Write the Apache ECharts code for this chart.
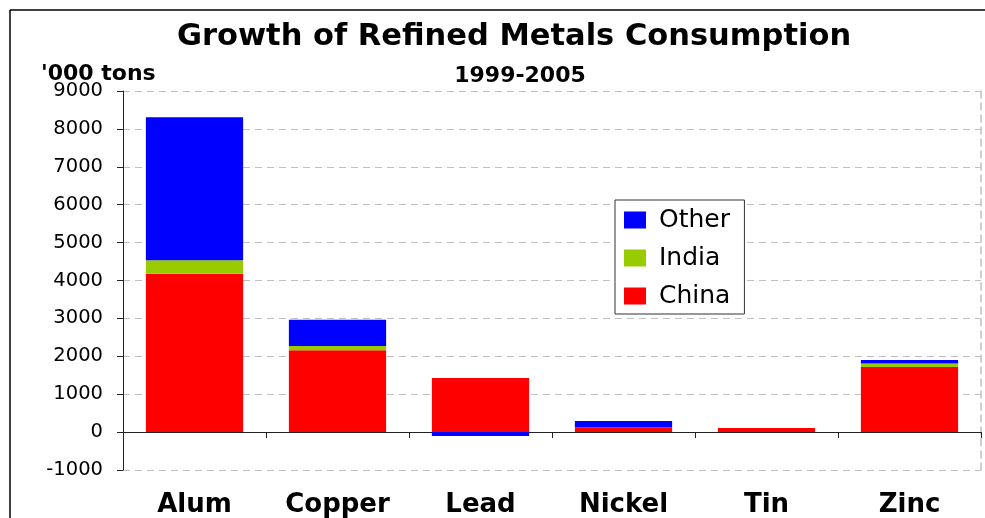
<!DOCTYPE html>
<html>
<head>
<meta charset="utf-8">
<title>Growth of Refined Metals Consumption</title>
<script src="https://cdn.jsdelivr.net/npm/echarts@6/dist/echarts.min.js"></script>
<style>
  html, body { margin: 0; padding: 0; background: #fff; }
  #chart { width: 985px; height: 518px; }
</style>
</head>
<body>
<div id="chart"></div>
<script>
// Metals on the category axis
const categories = ['Alum', 'Copper', 'Lead', 'Nickel', 'Tin', 'Zinc'];
// Consumption growth 1999-2005, '000 tons
const china = [4180, 2160, 1430, 125, 105, 1720];
const india = [355, 115, 0, 0, 0, 90];
const other = [3775, 690, -100, 165, 0, 90];
// Legend order, top to bottom
const legendOrder = ['Other', 'India', 'China'];

const FONT = 'DejaVu Sans';
const GRID_COLOR = '#c0c0c0';

const chart = echarts.init(document.getElementById('chart'), null, { renderer: 'canvas' });

chart.setOption({
  animation: false,
  backgroundColor: '#fff',
  textStyle: { fontFamily: FONT },
  title: [
    {
      text: 'Growth of Refined Metals Consumption',
      left: 509, top: 17, textAlign: 'center',
      textStyle: { fontFamily: FONT, fontWeight: 'bold', fontSize: 30.5, color: '#000' }
    },
    {
      text: "'000 tons",
      left: 36, top: 58,
      textStyle: { fontFamily: FONT, fontWeight: 'bold', fontSize: 22, color: '#000' }
    },
    {
      text: '1999-2005',
      left: 515, top: 60, textAlign: 'center',
      textStyle: { fontFamily: FONT, fontWeight: 'bold', fontSize: 22, color: '#000' }
    }
  ],
  graphic: [
    { type: 'line', shape: { x1: 10, y1: 10, x2: 985, y2: 10 }, style: { stroke: '#000', lineWidth: 1.5 } },
    { type: 'line', shape: { x1: 10, y1: 10, x2: 10, y2: 518 }, style: { stroke: '#000', lineWidth: 1.5 } }
  ],
  legend: {
    data: legendOrder,
    orient: 'vertical',
    left: 615, top: 200,
    backgroundColor: '#fff',
    borderColor: '#333',
    borderWidth: 1,
    padding: [7, 14, 5, 9],
    itemWidth: 22,
    itemHeight: 17,
    itemGap: 12,
    icon: 'rect',
    textStyle: { fontFamily: FONT, fontSize: 25, lineHeight: 26, color: '#000', padding: [0, 0, 0, 8] }
  },
  grid: { left: 123, right: 4, top: 91, bottom: 48, containLabel: false, outerBoundsMode: 'none' },
  xAxis: {
    type: 'category',
    data: categories,
    axisLine: { onZero: true, lineStyle: { color: '#222', width: 1 } },
    axisTick: { show: true, length: 6, lineStyle: { color: '#222' } },
    axisLabel: { margin: 22, fontFamily: FONT, fontWeight: 'bold', fontSize: 26, color: '#000' },
    splitLine: { show: false }
  },
  yAxis: [
    {
      type: 'value',
      min: -1000, max: 9000, interval: 1000,
      axisLine: { show: true, lineStyle: { color: '#222', width: 1 } },
      axisTick: { show: true, length: 6, lineStyle: { color: '#222' } },
      axisLabel: {
        margin: 20, fontFamily: FONT, fontSize: 19.5, color: '#000',
        formatter: (v) => String(v)
      },
      splitLine: { show: true, lineStyle: { color: GRID_COLOR, type: [7, 5], width: 1 } }
    },
    {
      type: 'value',
      position: 'right',
      min: -1000, max: 9000, interval: 1000,
      axisLine: { show: true, lineStyle: { color: GRID_COLOR, type: [7, 5], width: 1.5 } },
      axisTick: { show: false },
      axisLabel: { show: false },
      splitLine: { show: false }
    }
  ],
  series: [
    { name: 'China', type: 'bar', stack: 'total', data: china, barWidth: '68%', itemStyle: { color: '#ff0000' } },
    { name: 'India', type: 'bar', stack: 'total', data: india, barWidth: '68%', itemStyle: { color: '#99cc00' } },
    { name: 'Other', type: 'bar', stack: 'total', data: other, barWidth: '68%', itemStyle: { color: '#0000ff' } }
  ]
});
</script>
</body>
</html>
